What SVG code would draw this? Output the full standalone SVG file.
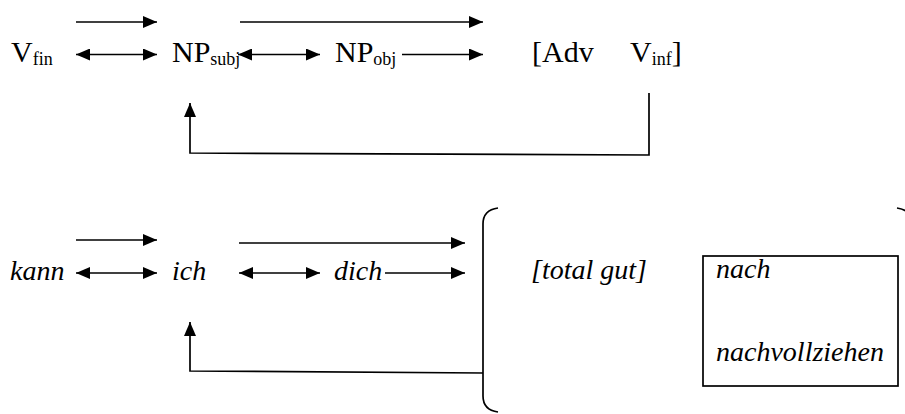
<svg xmlns="http://www.w3.org/2000/svg" width="905" height="414" viewBox="0 0 905 414">
  <style>
    .t { font-family: "Liberation Serif", "Times New Roman", serif; font-size: 30px; fill: #000; }
    .i { font-family: "Liberation Serif", "Times New Roman", serif; font-size: 28px; font-style: italic; fill: #000; }
    .sub { font-size: 18px; }
    .ln { fill: none; stroke: #000; stroke-width: 1.7; }
  </style>
  <defs>
    <marker id="head" viewBox="0 0 14 12" refX="14" refY="6" markerWidth="14" markerHeight="12" markerUnits="userSpaceOnUse" orient="auto-start-reverse">
      <path d="M0,0 L14,6 L0,12 Z" fill="#000"/>
    </marker>
  </defs>

  <rect width="905" height="414" fill="#fff"/>

  <!-- top row: categories -->
  <g id="v-fin"><text class="t" x="11" y="62">V<tspan class="sub" dy="3">fin</tspan></text></g>
  <g id="np-subj"><text class="t" x="172" y="62">NP<tspan class="sub" dy="3">subj</tspan></text></g>
  <g id="np-obj"><text class="t" x="335" y="62">NP<tspan class="sub" dy="3">obj</tspan></text></g>
  <g id="adv"><text class="t" x="532" y="62">[Adv</text></g>
  <g id="v-inf"><text class="t" x="630" y="62">V<tspan class="sub" dy="3">inf</tspan><tspan dy="-3">]</tspan></text></g>

  <!-- bottom row: example sentence -->
  <g id="kann"><text class="i" x="10" y="280">kann</text></g>
  <g id="ich"><text class="i" x="172" y="280">ich</text></g>
  <g id="dich"><text class="i" x="334" y="280">dich</text></g>
  <g id="total-gut"><text class="i" x="531" y="279">[total gut]</text></g>
  <g id="verb-box">
    <rect class="ln" x="703" y="256" width="195" height="130"/>
    <text class="i" x="716" y="278">nach</text>
    <text class="i" x="716" y="361">nachvollziehen</text>
  </g>
  <g id="brace">
    <path class="ln" d="M498,208 Q483,210 483,224 L483,396 Q483,410 498,412"/>
    <path class="ln" d="M897,208 Q912,210 912,224"/>
  </g>

  <g id="connectors">
    <!-- top row -->
    <line class="ln" x1="76" y1="22" x2="157" y2="22" marker-end="url(#head)"/>
    <line class="ln" x1="240" y1="22" x2="483" y2="22" marker-end="url(#head)"/>
    <line class="ln" x1="76" y1="54.5" x2="157" y2="54.5" marker-start="url(#head)" marker-end="url(#head)"/>
    <line class="ln" x1="238" y1="54.5" x2="320" y2="54.5" marker-start="url(#head)" marker-end="url(#head)"/>
    <line class="ln" x1="402" y1="54.5" x2="483" y2="54.5" marker-end="url(#head)"/>
    <polyline class="ln" points="649,93 649,155 190,153 190,103" marker-end="url(#head)"/>

    <!-- bottom row -->
    <line class="ln" x1="76" y1="240" x2="157" y2="240" marker-end="url(#head)"/>
    <line class="ln" x1="239" y1="243" x2="465" y2="243" marker-end="url(#head)"/>
    <line class="ln" x1="76" y1="273" x2="157" y2="273" marker-start="url(#head)" marker-end="url(#head)"/>
    <line class="ln" x1="239" y1="273" x2="320" y2="273" marker-start="url(#head)" marker-end="url(#head)"/>
    <line class="ln" x1="385" y1="273" x2="465" y2="273" marker-end="url(#head)"/>
    <polyline class="ln" points="483,373 190,371 190,322" marker-end="url(#head)"/>
  </g>
</svg>
